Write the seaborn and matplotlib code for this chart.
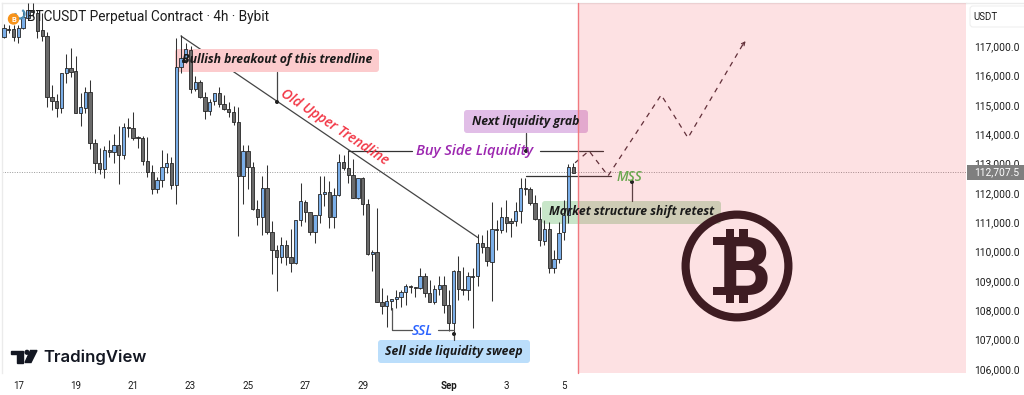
import matplotlib
matplotlib.use("Agg")
import matplotlib.pyplot as plt
from matplotlib.lines import Line2D
from matplotlib.patches import Arc, Circle, FancyBboxPatch, Polygon, Rectangle
from matplotlib.transforms import Affine2D
import pandas as pd
import seaborn as sns

# 4h candles
highs = [117765, 117714, 117714, 117714, 118224, 118462, 118462, 118224, 118122, 117476,
         115674, 115368, 116082, 116728, 116932, 116660, 115402, 115606, 115844, 113838,
         113532, 113600, 113804, 114008, 114280, 114382, 114552, 114756, 113940, 113940,
         113906, 112954, 112546, 113464, 113362, 113226, 117272, 117374, 117102, 117000,
         115980, 115844, 115436, 115198, 115402, 115606, 115334, 115096, 114960, 114926,
         113634, 113634, 113056, 111764, 112580, 112954, 111050, 110234, 110506, 110404,
         110778, 111084, 112342, 111764, 111356, 111254, 112580, 112580, 112410, 112172,
         113328, 113294, 113464, 113158, 112512, 112546, 111798, 110064, 111492, 108772,
         108534, 108398, 108704, 108704, 108908, 108874, 108806, 109452, 109282, 109044,
         108874, 109180, 109180, 108704, 109384, 109860, 109486, 109316, 109452, 110608,
         110574, 110744, 111696, 111084, 111526, 111764, 111152, 111696, 112512, 112512,
         112206, 111934, 111526, 111084, 111016, 110064, 111016, 111764, 112988, 113022]
lows = [117272, 117442, 117170, 117102, 117578, 117884, 117986, 117272, 117170, 114926,
        114824, 114586, 114722, 115742, 115946, 114722, 114280, 114722, 113498, 112682,
        112648, 112512, 113226, 113022, 112308, 113158, 113906, 113804, 113532, 112954,
        112546, 111968, 112002, 112206, 112682, 112138, 111628, 116082, 116422, 115402,
        115470, 115232, 114518, 114654, 114994, 114926, 114824, 114586, 114314, 110540,
        111628, 112138, 111424, 110914, 110574, 110608, 109248, 108670, 109622, 109554,
        109316, 109588, 110880, 111016, 110574, 110302, 110982, 111560, 110812, 110812,
        111900, 112784, 112342, 111832, 111798, 111254, 109894, 109350, 108296, 107888,
        107446, 108024, 108092, 108126, 108194, 108602, 108466, 108738, 108466, 108296,
        108228, 108534, 107922, 107276, 107242, 108364, 108534, 108364, 107412, 108840,
        109962, 109520, 108330, 110064, 110642, 110676, 110506, 110880, 110982, 111934,
        111594, 111084, 110200, 110234, 109282, 109282, 109622, 110404, 110982, 112682]
opens = [117306, 117595, 117578, 117306, 117612, 117952, 118224, 118122, 117544, 117340,
         115266, 115130, 114892, 116082, 116252, 116150, 114722, 114892, 115436, 113702,
         113022, 112818, 113464, 113396, 113634, 113294, 114246, 114212, 113906, 113872,
         113090, 112716, 112138, 112444, 112886, 113022, 112274, 116286, 116592, 116864,
         115538, 115776, 115266, 114790, 115130, 115402, 115028, 114858, 114756, 114416,
         112580, 113430, 112886, 111458, 111186, 112172, 110676, 110064, 109826, 110234,
         109826, 109622, 111084, 111696, 111356, 110676, 111254, 111968, 112036, 111186,
         111934, 113056, 112852, 112614, 111832, 112512, 111628, 109928, 109996, 108296,
         108160, 108330, 108398, 108466, 108636, 108840, 108806, 108772, 109180, 108602,
         108296, 108738, 108874, 108194, 107582, 109350, 108738, 108704, 109180, 109180,
         110302, 110166, 109656, 110778, 110744, 111186, 111050, 111050, 111390, 112172,
         112138, 111662, 111118, 110370, 110778, 109452, 109758, 110676, 111254, 112886]
closes = [117612, 117561, 117306, 117612, 117986, 118224, 118156, 117510, 117340, 115266,
          115130, 114892, 116082, 116252, 116116, 114722, 114926, 115436, 113702, 113022,
          112818, 113464, 113396, 113634, 113294, 114246, 114212, 113872, 113872, 113090,
          112716, 112138, 112444, 112886, 113022, 112274, 116286, 116592, 116898, 115538,
          115776, 115266, 114790, 115096, 115402, 115028, 114858, 114756, 114416, 112580,
          113430, 112886, 111458, 111186, 112172, 110676, 110064, 109826, 110234, 109826,
          109622, 111084, 111730, 111356, 110676, 111254, 111968, 112036, 111186, 111934,
          113056, 112852, 112614, 111832, 112512, 111628, 109928, 109996, 108296, 108160,
          108330, 108398, 108466, 108636, 108840, 108806, 108772, 109180, 108602, 108296,
          108738, 108874, 108194, 107582, 109350, 108738, 108704, 109180, 109146, 110302,
          110166, 109690, 110778, 110744, 111186, 110982, 110982, 111390, 112172, 112138,
          111662, 111118, 110404, 110778, 109452, 109758, 110642, 111254, 112886, 112682]

price_ticks = [117000, 116000, 115000, 114000, 113000, 112000, 111000, 110000, 109000, 108000, 107000, 106000]
date_ticks = [3, 15, 27, 39, 51, 63, 75, 93, 105, 117]
date_labels = ["17", "19", "21", "23", "25", "27", "29", "Sep", "3", "5"]
last_price = 112707.5

# drawn lines, as (bar, price)
trend_bars = [37.0, 99.1]
trend_prices = [117340, 110472]
path_bars = [119.4, 122.3, 126.3, 137.4, 143.0, 154.9]
path_prices = [113022, 113430, 112580, 115334, 113872, 117170]
buy_level = 113430
mss_level = 112580
ssl_level = 107310

UP = "#7aaee8"
DOWN = "#6a6a6a"
EDGE = "#262626"
INK = "#1c1c1c"
LOGO = "#3e1c22"
LABEL_FONT = "Open Sans"

sns.set_theme(style="white")
plt.rcParams["font.family"] = ["Roboto", "DejaVu Sans"]

W, H = 1024, 395
fig = plt.figure(figsize=(W / 100, H / 100), dpi=100, facecolor="white")
ax = fig.add_axes([2 / W, 1 - 373 / H, 964 / W, 370 / H])
ax.set_xlim((2 - 4) / 4.783, (966 - 4) / 4.783)
ax.set_ylim(117000 - (373 - 46) * 34.06, 117000 + (46 - 3) * 34.06)

# reference pixels, y downwards
px = Affine2D().scale(1, -1).translate(0, H)

df = pd.DataFrame({"bar": range(len(opens)), "open": opens, "high": highs, "low": lows, "close": closes})
df["up"] = df["close"] >= df["open"]
ax.vlines(df["bar"], df["low"], df["high"], color="#333333", lw=0.75, zorder=4)
ax.bar(df["bar"], (df["close"] - df["open"]).abs(), bottom=df[["open", "close"]].min(axis=1), width=0.7,
       color=[UP if u else DOWN for u in df["up"]], edgecolor=EDGE, linewidth=0.6, zorder=5)

sns.lineplot(x=trend_bars, y=trend_prices, ax=ax, color="#444444", lw=0.9, zorder=2, sort=False, errorbar=None)
sns.lineplot(x=path_bars, y=path_prices, ax=ax, color="#4a2f38", lw=0.9, ls=(0, (4, 4)), zorder=7, sort=False, errorbar=None)
ax.annotate("", xy=(path_bars[-1] + 0.5, path_prices[-1] + 70), xytext=(path_bars[-1] - 0.8, path_prices[-1] - 200),
            arrowprops=dict(arrowstyle="->", color="#4a2f38", lw=0.8, mutation_scale=6), zorder=7)

ax.axhline(last_price, color="#9a9a9a", lw=0.7, ls=(0, (1, 1.5)), zorder=1)
ax.plot([72.1, 85.3], [buy_level] * 2, color="#333333", lw=0.9, zorder=6)
ax.plot([112.1, 125.2], [buy_level] * 2, color="#333333", lw=0.9, zorder=6)
ax.plot([109.1, 126.9], [mss_level] * 2, color="#333333", lw=0.9, zorder=6)
ax.plot([81.1, 81.1, 85.3], [108092, ssl_level, ssl_level], color="#555555", lw=0.9, zorder=6)
ax.plot([90.7, 94.1], [ssl_level] * 2, color="#555555", lw=0.9, zorder=6)


def px_line(xs, ys, color="#444444", lw=0.9, z=6):
    ax.add_line(Line2D(xs, ys, transform=px, color=color, lw=lw, zorder=z, clip_on=False))


def dot(x, y, z=8):
    ax.add_patch(Circle((x, y), 1.3, transform=px, color="#222222", zorder=z, clip_on=False))


def label(x0, x1, y0, y1, face, text):
    ax.add_patch(FancyBboxPatch((x0, y0), x1 - x0, y1 - y0, boxstyle="round,pad=0,rounding_size=3", transform=px,
                                facecolor=face, edgecolor="none", zorder=3, clip_on=False))
    ax.text((x0 + x1) / 2, (y0 + y1) / 2 - 0.5, text, transform=px, ha="center", va="center", color="#1a1a1a",
            family=LABEL_FONT, style="italic", weight="bold", fontsize=8.85, zorder=9)


label(175, 379, 49, 72, "#fccbcd", "Bullish breakout of this trendline")
label(464, 588, 110, 133, "#e1bee7", "Next liquidity grab")
label(542, 721, 201, 224, "#c8e6c9", "Market structure shift retest")
label(378, 530, 340, 363, "#bbdefb", "Sell side liquidity sweep")

px_line([277, 277], [72, 102])
dot(277, 102)
dot(184, 61)
px_line([526, 526], [133, 151])
dot(526, 151)
px_line([632, 632], [183, 201])
dot(632, 182)
px_line([454, 454], [334, 340])
dot(454, 334)

for txt, x, y, col, rot, size in [("Old Upper Trendline", 335, 127, "#f23645", -33.5, 10),
                                  ("Buy Side Liquidity", 475, 151, "#9c27b0", 0, 10.5),
                                  ("MSS", 629, 177, "#6aa84f", 0, 9.8),
                                  ("SSL", 422, 331, "#2962ff", 0, 10)]:
    ax.text(x, y, txt, transform=px, ha="center", va="center", color=col, rotation=rot, rotation_mode="anchor",
            family=LABEL_FONT, style="italic", weight="semibold", fontsize=size, zorder=9)

# forecast zone sits over everything but the text
ax.add_patch(Rectangle((577.5, 3), 966 - 577.5, 370, transform=px, facecolor="#f23645", alpha=0.15, edgecolor="none", zorder=7.5))
px_line([577.5, 577.5], [3, 373], color="#f0797f", lw=1.0, z=7.6)

# bitcoin logo, no installed font has the sign so it is built from a B
ax.scatter([737], [266], s=74 ** 2, facecolors="none", edgecolors=LOGO, linewidths=5.9, transform=px, zorder=8)
ax.text(719, 295, "B", transform=px, ha="left", va="baseline", color=LOGO, family="Roboto", weight="bold", fontsize=59, zorder=8)
for x0, y0, w, h in [(726, 229, 8, 9), (739, 229, 9, 9), (726, 294, 8, 9), (739, 294, 9, 9),
                     (713, 237, 12, 8), (713, 287, 12, 8)]:
    ax.add_patch(Rectangle((x0, y0), w, h, transform=px, facecolor=LOGO, edgecolor="none", zorder=8))

# header
ax.add_patch(Arc((20, 14), 9, 9, theta1=-60, theta2=190, transform=px, color="#4a8db5", lw=1.6, zorder=9, clip_on=False))
ax.add_patch(Circle((13.5, 19), 5, transform=px, color="#f7931a", zorder=9.5))
ax.text(13.5, 19, "B", transform=px, ha="center", va="center", color="white", family="Roboto", weight="bold", fontsize=5.5, zorder=10)
ax.text(27, 17, "BTCUSDT Perpetual Contract \u00b7 4h \u00b7 Bybit", transform=px, ha="left", va="center", color="#1c1c1c",
        fontsize=9.85, zorder=10)

# tradingview mark
for pts in [[(11, 350.5), (23, 350.5), (23, 362.5), (17, 362.5), (17, 354), (11, 354)],
            [(30.5, 350.5), (37, 350.5), (31, 362.5), (25, 362.5)]]:
    ax.add_patch(Polygon(pts, transform=px, color="#131722", zorder=9))
ax.add_patch(Circle((27, 352.3), 1.9, transform=px, color="#131722", zorder=9))
ax.text(43, 357, "TradingView", transform=px, ha="left", va="center", color="#131722", family="Inter", weight="semibold",
        fontsize=12, zorder=9)

# axes
ax.yaxis.tick_right()
ax.set_yticks(price_ticks, [f"{p:,.1f}" for p in price_ticks])
ax.set_xticks(date_ticks, date_labels)
ax.tick_params(axis="y", length=0, pad=5.5, labelsize=7.4, labelcolor=INK)
ax.tick_params(axis="x", length=0, pad=6, labelsize=7, labelcolor=INK)
ax.get_xticklabels()[7].set_fontweight("bold")
ax.grid(False)
for side in ["right", "bottom"]:
    ax.spines[side].set_visible(False)
for side in ["left", "top"]:
    ax.spines[side].set_color("#ebebeb")
    ax.spines[side].set_linewidth(1.0)
ax.set_xlabel("")
ax.set_ylabel("")
fig.add_artist(Line2D([966 / W, 1], [1 - 3 / H] * 2, color="#ebebeb", lw=1.0))

# price and unit tags
ax.add_patch(Rectangle((967, 165), 57, 15, transform=px, facecolor="#7f7f7f", edgecolor="none", zorder=9, clip_on=False))
ax.text(974, 172.5, f"{last_price:,.1f}", transform=px, ha="left", va="center", color="white", fontsize=7.4, zorder=10)
ax.add_patch(FancyBboxPatch((970, 6), 60, 21, boxstyle="round,pad=0,rounding_size=3", transform=px, facecolor="white",
                            edgecolor="#efefef", lw=0.8, zorder=9, clip_on=False))
ax.text(973, 17, "USDT", transform=px, ha="left", va="center", color=INK, fontsize=7, zorder=10)

fig.savefig("out.png", dpi=100)
